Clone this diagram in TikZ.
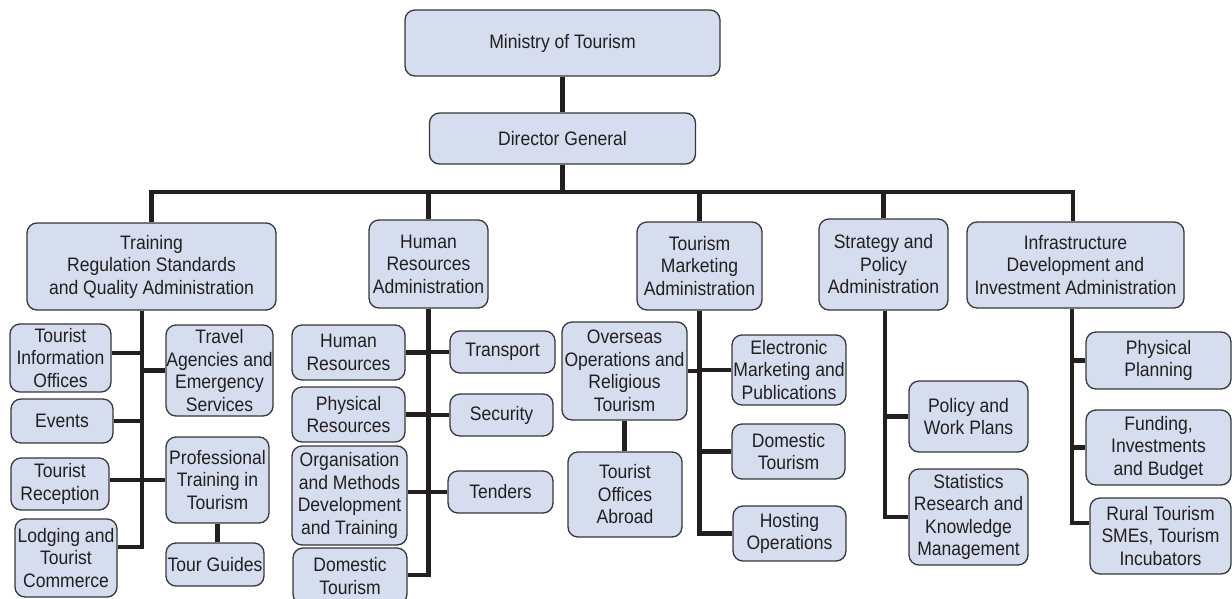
\documentclass[tikz,border=0pt]{standalone}
\usepackage{fontspec}
\setmainfont{Liberation Sans}[FakeStretch=0.9]
\usetikzlibrary{calc}
\definecolor{boxfill}{RGB}{213,221,239}
\definecolor{boxline}{RGB}{55,55,58}
\definecolor{ink}{RGB}{35,31,32}
\tikzset{
  box/.style={draw=boxline, line width=1.3pt, fill=boxfill, rounded corners=10pt,
    inner sep=0pt, align=center, text=ink,
    font=\fontsize{19.5}{22.5}\selectfont},
  conn/.style={draw=ink, line width=4.8pt, line join=miter}
}
\newcommand{\bx}[6]{\node[box, minimum width=#4pt, minimum height=#5pt] (#1) at (#2,#3) {#6};}
\begin{document}
\begin{tikzpicture}[x=1pt,y=-1pt]
\useasboundingbox (0,0) rectangle (1232,598);
\clip (0,0) rectangle (1232,598);
% top level
\bx{min}{562.5}{43}{315}{66}{Ministry of Tourism}
\bx{dg}{562.5}{138.5}{266}{51}{Director General}
\bx{train}{151.5}{266.5}{249}{87}{Training\\Regulation Standards\\and Quality Administration}
\bx{hr}{428.5}{264}{119}{88}{Human\\Resources\\Administration}
\bx{tm}{699.5}{266}{125}{88}{Tourism\\Marketing\\Administration}
\bx{strat}{883.5}{264.5}{129}{91}{Strategy and\\Policy\\Administration}
\bx{infra}{1075.5}{265}{217}{86}{Infrastructure\\Development and\\Investment Administration}
% training children
\bx{tio}{60.5}{358}{101}{68}{Tourist\\Information\\Offices}
\bx{travel}{219.5}{370.5}{107}{91}{Travel\\Agencies and\\Emergency\\Services}
\bx{events}{62}{421}{102}{44}{Events}
\bx{recep}{60}{484}{98}{52}{Tourist\\Reception}
\bx{prof}{217.5}{480}{103}{86}{Professional\\Training in\\Tourism}
\bx{tg}{215}{564.5}{98}{43}{Tour Guides}
\bx{lodg}{66}{558}{102}{78}{Lodging and\\Tourist\\Commerce}
% HR children
\bx{humres}{348.5}{352.5}{113}{55}{Human\\Resources}
\bx{transport}{502.5}{352}{105}{42}{Transport}
\bx{physres}{348.5}{414.5}{113}{55}{Physical\\Resources}
\bx{security}{501.5}{415}{103}{42}{Security}
\bx{org}{349.5}{495.5}{115}{99}{Organisation\\and Methods\\Development\\and Training}
\bx{tenders}{500.5}{492}{105}{42}{Tenders}
\bx{domhr}{350}{576}{114}{56}{Domestic\\Tourism}
% TM children
\bx{overseas}{624.5}{371}{125}{98}{Overseas\\Operations and\\Religious\\Tourism}
\bx{abroad}{625}{494.5}{114}{85}{Tourist\\Offices\\Abroad}
\bx{elec}{789}{370}{114}{70}{Electronic\\Marketing and\\Publications}
\bx{domtm}{788.5}{451.5}{113}{55}{Domestic\\Tourism}
\bx{hosting}{789.5}{533.5}{113}{55}{Hosting\\Operations}
% strategy children
\bx{policy}{968.5}{416.5}{119}{71}{Policy and\\Work Plans}
\bx{stats}{968.5}{517}{119}{96}{Statistics\\Research and\\Knowledge\\Management}
% infra children
\bx{phys}{1158.5}{360.5}{145}{57}{Physical\\Planning}
\bx{funding}{1158.5}{447.5}{145}{75}{Funding,\\Investments\\and Budget}
\bx{rural}{1160.5}{536}{141}{76}{Rural Tourism\\SMEs, Tourism\\Incubators}
% connectors top
\coordinate (bus) at (562.5,192);
\draw[conn] (min.south) -- (dg.north);
\draw[conn] (dg.south) -- (bus);
\draw[conn] (train.north) |- (bus) -| ([xshift=-2.5pt]infra.north);
\draw[conn] (hr.north) -- (hr.north |- bus);
\draw[conn] (tm.north) -- (tm.north |- bus);
\draw[conn] (strat.north) -- (strat.north |- bus);
% training trunk
\coordinate (t1) at ([xshift=-9.5pt]train.south);
\draw[conn] (t1) |- ([yshift=11pt]lodg.east);
\draw[conn] (t1) |- ([yshift=5pt]tio.east);
\draw[conn] (t1) |- (travel.west);
\draw[conn] (t1) |- (events.east);
\draw[conn] (t1) |- ([yshift=4pt]recep.east);
\draw[conn] (t1) |- (prof.west);
\draw[conn] (prof.south) -- (prof.south |- tg.north);
% HR trunk
\coordinate (t2) at (hr.south);
\draw[conn] (t2) |- ([yshift=1pt]domhr.east);
\draw[conn] (t2) |- (humres.east);
\draw[conn] (t2) |- (transport.west);
\draw[conn] (t2) |- (physres.east);
\draw[conn] (t2) |- (security.west);
\draw[conn] (t2) |- ([yshift=3.5pt]org.east);
\draw[conn] (t2) |- (tenders.west);
% TM trunk
\coordinate (t3) at (tm.south);
\draw[conn] (t3) |- (hosting.west);
\draw[conn] (t3) |- (overseas.east);
\draw[conn] (t3) |- (elec.west);
\draw[conn] (t3) |- (domtm.west);
\draw[conn] (overseas.south) -- (overseas.south |- abroad.north);
% strategy trunk
\coordinate (t4) at ([xshift=1.5pt]strat.south);
\draw[conn] (t4) |- (stats.west);
\draw[conn] (t4) |- (policy.west);
% infra trunk
\coordinate (t5) at ([xshift=-3.5pt]infra.south);
\draw[conn] (t5) |- ([yshift=13pt]rural.west);
\draw[conn] (t5) |- (phys.west);
\draw[conn] (t5) |- (funding.west);
\end{tikzpicture}
\end{document}
